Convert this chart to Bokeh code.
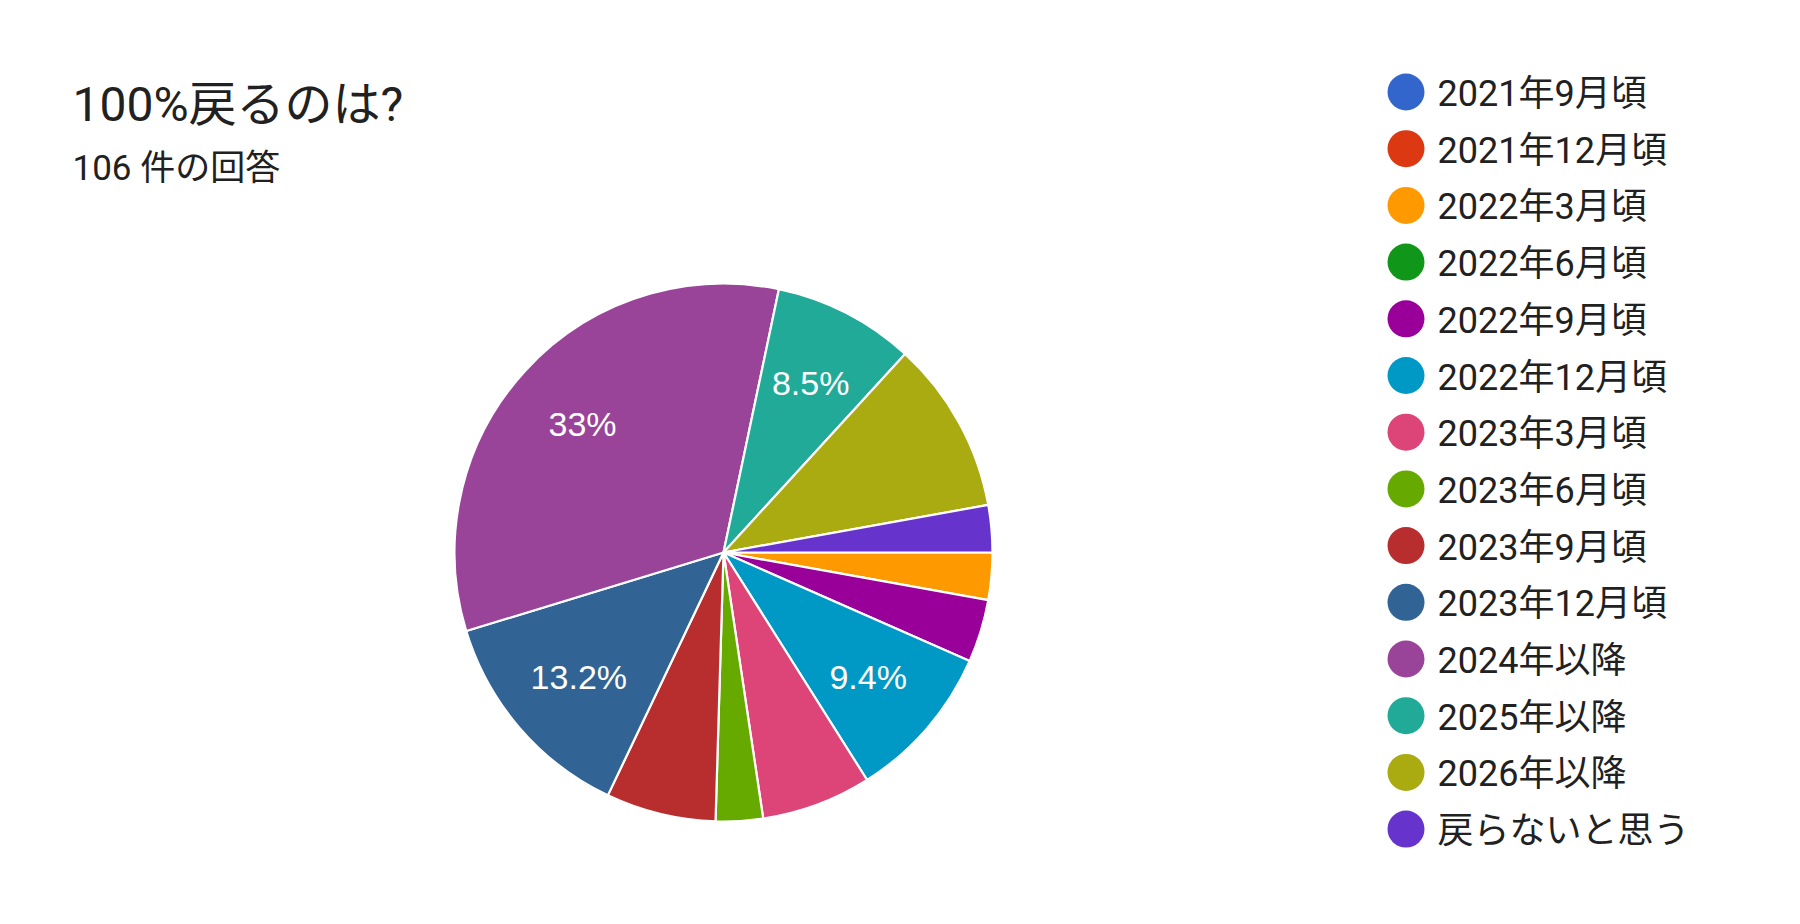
import math
from bokeh.plotting import figure
from bokeh.models import Range1d, ColumnDataSource
from bokeh.core.properties import value
from bokeh.embed import file_html
from bokeh.resources import INLINE

# ---------------- data ----------------
title_text = "100%戻るのは?"
subtitle_text = "106 件の回答"
categories = [
    "2021年9月頃", "2021年12月頃", "2022年3月頃", "2022年6月頃",
    "2022年9月頃", "2022年12月頃", "2023年3月頃", "2023年6月頃",
    "2023年9月頃", "2023年12月頃", "2024年以降", "2025年以降",
    "2026年以降", "戻らないと思う",
]
counts = [0, 0, 3, 0, 4, 10, 7, 3, 7, 14, 35, 9, 11, 3]
colors = [
    "#3366cc", "#dc3912", "#ff9900", "#109618", "#990099", "#0099c6",
    "#dd4477", "#66aa00", "#b82e2e", "#316395", "#994499", "#22aa99",
    "#aaaa11", "#6633cc",
]
show_label = [False, False, False, False, False, True, False, False,
              False, True, True, True, False, False]

# ---------------- layout (screenshot pixels) ----------------
W, H = 1784, 908
PAGE_H = 924
def Y(yp):
    return PAGE_H - yp

CX, CY, R = 723, 552, 269
LABEL_FR = 0.71

FONT = value("Roboto, 'Noto Sans CJK JP', sans-serif")
TXT = "#212121"

p = figure(width=W, height=H, output_backend="svg", toolbar_location=None,
           x_range=Range1d(0, W), y_range=Range1d(PAGE_H - H, PAGE_H),
           min_border=0, border_fill_color="white", background_fill_color="white")
p.axis.visible = False
p.grid.visible = False
p.outline_line_color = None

# ---------------- pie ----------------
total = sum(counts)
starts, ends, cols, lx, ly, ltxt = [], [], [], [], [], []
cum = 0
for c, col, sl in zip(counts, colors, show_label):
    a0 = 2 * math.pi * cum / total
    cum += c
    a1 = 2 * math.pi * cum / total
    if c == 0:
        continue
    starts.append(-a1)
    ends.append(-a0)
    cols.append(col)
    if sl:
        mid = (a0 + a1) / 2
        lx.append(CX + LABEL_FR * R * math.cos(mid))
        ly.append(Y(CY + LABEL_FR * R * math.sin(mid)))
        pct = round(100 * c / total, 1)
        s = f"{pct:.1f}"
        if s.endswith(".0"):
            s = s[:-2]
        ltxt.append(s + "%")

src = ColumnDataSource(dict(x=[CX] * len(cols), y=[Y(CY)] * len(cols),
                            s=starts, e=ends, c=cols))
p.wedge(x="x", y="y", radius=R, start_angle="s", end_angle="e",
        direction="anticlock", fill_color="c", line_color="white",
        line_width=2.2, source=src)

p.text(x=lx, y=ly, text=ltxt, text_color="white", text_align="center",
       text_baseline="middle", text_font=value("Liberation Sans"),
       text_font_size="34px")

# ---------------- title ----------------
p.text(x=[72], y=[Y(103.5)], text=[title_text], text_color=TXT,
       text_font=FONT, text_font_size="48px", text_baseline="middle")
p.text(x=[72], y=[Y(168)], text=[subtitle_text], text_color=TXT,
       text_font=FONT, text_font_size="35px", text_baseline="middle")

# ---------------- legend ----------------
ly0, dy = 91.5, 56.7
leg_y = [Y(ly0 + i * dy) for i in range(len(categories))]
p.scatter(x=[1405.5] * len(categories), y=leg_y, size=37, marker="circle",
          fill_color=colors, line_color=None)
p.text(x=[1437] * len(categories), y=[v - 2 for v in leg_y], text=categories,
       text_color=TXT, text_font=FONT, text_font_size="36px",
       text_baseline="middle")

open("out.html", "w").write(file_html(p, INLINE))
